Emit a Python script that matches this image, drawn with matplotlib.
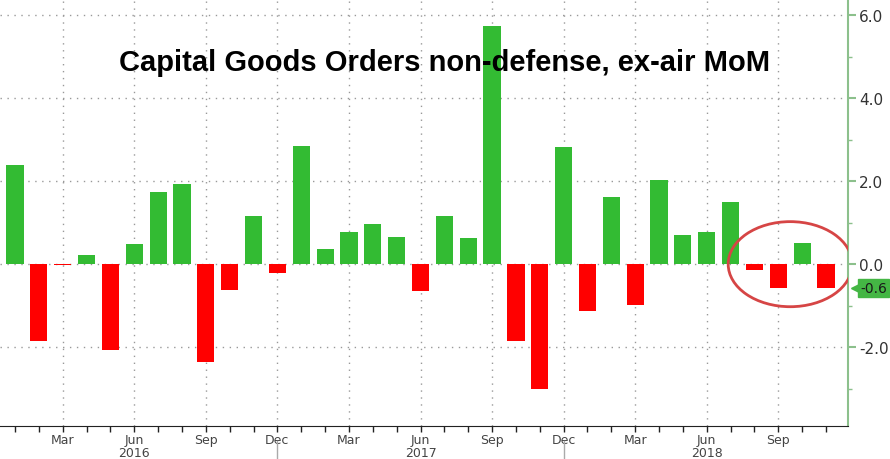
import numpy as np
import pandas as pd
import matplotlib
matplotlib.use("Agg")
from matplotlib import pyplot as plt
from matplotlib.patches import Ellipse
import matplotlib.transforms as mtransforms

# monthly % change, Jan 2016 .. Nov 2018
months = pd.date_range("2016-01-01", periods=35, freq="MS")
mom_change = [2.40, -1.84, -0.03, 0.22, -2.08, 0.48, 1.74, 1.94, -2.36, -0.62, 1.16, -0.21,
              2.84, 0.36, 0.78, 0.96, 0.66, -0.65, 1.16, 0.63, 5.74, -1.86, -3.00, 2.82,
              -1.14, 1.62, -0.98, 2.04, 0.70, 0.77, 1.50, -0.14, -0.58, 0.50, -0.58]
y_ticks = [-2.0, 0.0, 2.0, 4.0, 6.0]
title = "Capital Goods Orders non-defense, ex-air MoM"

GREEN = "#33bb33"
RED = "#ff0000"
AXIS_GREEN = "#8cc08c"
NARROW = ["Liberation Sans Narrow", "DejaVu Sans"]


def main():
    fig = plt.figure(figsize=(8.9, 4.6), dpi=100)
    ax = fig.add_axes([0.0, 0.0717, 0.953, 0.9283])

    x = np.arange(len(months))
    vals = np.array(mom_change)
    colors = [GREEN if v >= 0 else RED for v in vals]
    ax.bar(x, vals, width=0.72, color=colors, zorder=2)

    ax.set_xlim(-0.63, len(months) - 0.07)
    ax.set_ylim(-3.9, 6.39)

    # y axis on the right
    ax.yaxis.tick_right()
    ax.set_yticks(y_ticks)
    ax.set_yticklabels(["%.1f" % t for t in y_ticks])
    ax.set_yticks([-3, -1, 1, 3, 5], minor=True)
    ax.tick_params(axis="y", which="major", colors=AXIS_GREEN, length=6, width=1.5,
                   labelcolor="#333333", labelsize=11, pad=2)
    ax.tick_params(axis="y", which="minor", colors=AXIS_GREEN, length=3, width=1)
    for lbl in ax.get_yticklabels():
        lbl.set_family(NARROW)

    # x axis: tick every month, label each quarter
    ax.set_xticks(x)
    labels = [d.strftime("%b") if d.month in (3, 6, 9, 12) else "" for d in months]
    ax.set_xticklabels(labels)
    ax.tick_params(axis="x", length=4, width=1, colors="#222222",
                   labelcolor="#444444", labelsize=9, pad=1)
    for lbl in ax.get_xticklabels():
        lbl.set_family(NARROW)

    for s in ["top", "left"]:
        ax.spines[s].set_visible(False)
    ax.spines["right"].set_color(AXIS_GREEN)
    ax.spines["right"].set_linewidth(1.5)
    ax.spines["bottom"].set_color("#222222")

    # dotted grid
    for t in y_ticks:
        ax.axhline(t, color="#999999", lw=1, ls=(0, (1, 4)), zorder=1)
    for xi, d in zip(x, months):
        if d.month in (3, 6, 9, 12):
            ax.axvline(xi, color="#999999", lw=1, ls=(0, (1, 4)), zorder=1)

    # year labels and separators under the axis
    trans = mtransforms.blended_transform_factory(ax.transData, ax.transAxes)
    for xi, d in zip(x, months):
        if d.month == 6:
            ax.text(xi, -0.061, str(d.year), transform=trans, ha="center", va="center",
                    fontsize=9, color="#444444", family=NARROW)
        if d.month == 12 and xi < len(months) - 1:
            ax.plot([xi, xi], [-0.036, -0.075], transform=trans, color="#aaaaaa",
                    lw=1, clip_on=False)

    # last value tag: small pointer + green box
    last = vals[-1]
    tag_tr = mtransforms.blended_transform_factory(ax.transAxes, ax.transData)
    ax.plot([1.011], [last], marker="<", ms=9, color="#44b644", transform=tag_tr,
            clip_on=False, zorder=4)
    ax.text(1.014, last, "%.1f" % last, transform=tag_tr,
            ha="left", va="center", fontsize=10, color="#1a1a1a", family=NARROW,
            bbox=dict(boxstyle="square,pad=0.15", fc="#44b644", ec="#44b644"),
            clip_on=False, zorder=5)

    # red circle around the last months
    n = len(months)
    ell = Ellipse((n - 2.5, 0.0), width=5.2, height=2.05, fill=False,
                  ec="#d64545", lw=2, zorder=3)
    ax.add_patch(ell)

    fig.text(0.5, 1 - 63 / 460, title, ha="center", va="center",
             fontsize=21, fontweight="bold", color="black", family="Liberation Sans")

    fig.savefig("out.png", dpi=100)


if __name__ == "__main__":
    main()
